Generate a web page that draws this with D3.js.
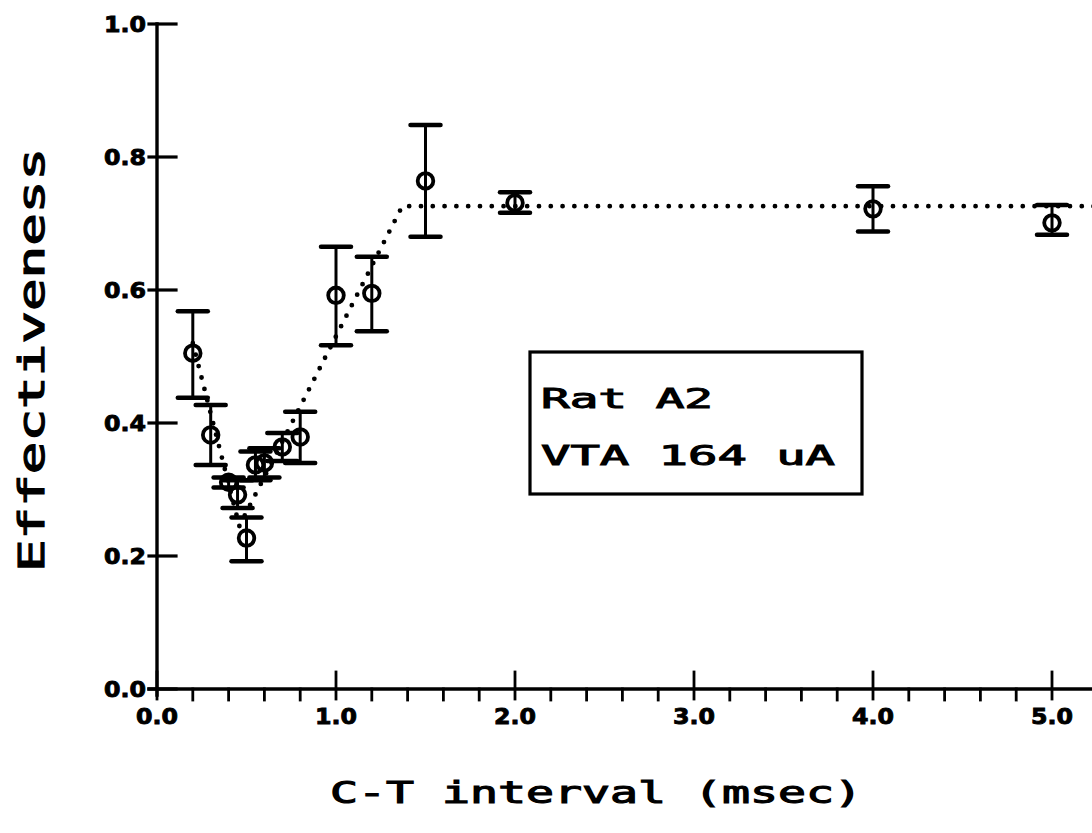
<!DOCTYPE html>
<html>
<head>
<meta charset="utf-8">
<script src="https://cdn.jsdelivr.net/npm/d3@7"></script>
<style>
  html, body { margin: 0; padding: 0; background: #fff; }
  svg { display: block; }
</style>
</head>
<body>
<svg id="chart" width="1092" height="833"></svg>
<script>
// C-T interval (msec) for each measured point
const intervals = [0.2, 0.3, 0.4, 0.45, 0.5, 0.55, 0.6, 0.7, 0.8, 1.0, 1.2, 1.5, 2.0, 4.0, 5.0];
// Mean effectiveness at each interval
const effectiveness = [0.505, 0.382, 0.311, 0.292, 0.227, 0.337, 0.340, 0.364, 0.379, 0.592, 0.595, 0.764, 0.731, 0.722, 0.701];
// Upper and lower ends of the error bars
const errUpper = [0.568, 0.427, 0.318, 0.314, 0.258, 0.357, 0.362, 0.385, 0.417, 0.665, 0.650, 0.848, 0.747, 0.756, 0.728];
const errLower = [0.438, 0.337, 0.303, 0.272, 0.192, 0.314, 0.318, 0.343, 0.340, 0.517, 0.538, 0.680, 0.716, 0.688, 0.683];
// Piecewise-linear fit (dotted)
const fitX = [0.2, 0.46, 1.37, 5.3];
const fitY = [0.52, 0.245, 0.726, 0.726];
// Axis ticks
const xMajorTicks = [0, 1, 2, 3, 4, 5];
const xTickLabels = ["0.0", "1.0", "2.0", "3.0", "4.0", "5.0"];
const xMinorTicks = d3.range(0, 26).map(i => i * 0.2).filter(v => Math.abs(v - Math.round(v)) > 1e-6);
const yTicks = [0, 0.2, 0.4, 0.6, 0.8, 1.0];
const yTickLabels = ["0.0", "0.2", "0.4", "0.6", "0.8", "1.0"];
const boxLines = ["Rat A2", "VTA 164 uA"];

const svg = d3.select("#chart");
const x = d3.scaleLinear().domain([0, 5]).range([157, 1052]);
const y = d3.scaleLinear().domain([0, 1]).range([689, 24]);
const mono = "'DejaVu Sans Mono', 'Liberation Mono', monospace";
const sans = "'DejaVu Sans', 'Liberation Sans', sans-serif";

// Axes lines
const ax = svg.append("g").attr("stroke", "#000").attr("stroke-linecap", "square");
ax.append("line").attr("x1", x(0)).attr("x2", x(0)).attr("y1", y(1)).attr("y2", y(0) + 6).attr("stroke-width", 3.4);
ax.append("line").attr("x1", x(0) - 8).attr("x2", 1092).attr("y1", y(0)).attr("y2", y(0)).attr("stroke-width", 3.4);

// Y ticks
ax.selectAll(".yt").data(yTicks).join("line")
  .attr("x1", x(0) - 8).attr("x2", x(0) + 19)
  .attr("y1", d => y(d)).attr("y2", d => y(d)).attr("stroke-width", 3.2);

// X major ticks (rise above the axis)
ax.selectAll(".xt").data(xMajorTicks).join("line")
  .attr("x1", d => x(d)).attr("x2", d => x(d))
  .attr("y1", y(0) - 17).attr("y2", y(0) + 10).attr("stroke-width", 2.8);
// X minor ticks (hang below the axis)
ax.selectAll(".xm").data(xMinorTicks).join("line")
  .attr("x1", d => x(d)).attr("x2", d => x(d))
  .attr("y1", y(0)).attr("y2", y(0) + 11).attr("stroke-width", 2.8);

// Tick labels
svg.selectAll(".ylab").data(yTicks).join("text")
  .attr("x", x(0) - 53).attr("y", d => y(d) + 8)
  .attr("font-family", sans).attr("font-weight", "bold").attr("font-size", 22)
  .attr("stroke", "#000").attr("stroke-width", 0.9)
  .attr("textLength", 42).attr("lengthAdjust", "spacingAndGlyphs")
  .text((d, i) => yTickLabels[i]);

svg.selectAll(".xlab").data(xMajorTicks).join("text")
  .attr("x", d => x(d) - 21).attr("y", y(0) + 35)
  .attr("font-family", sans).attr("font-weight", "bold").attr("font-size", 22)
  .attr("stroke", "#000").attr("stroke-width", 0.9)
  .attr("textLength", 42).attr("lengthAdjust", "spacingAndGlyphs")
  .text((d, i) => xTickLabels[i]);

// Axis titles
svg.append("text")
  .attr("transform", `translate(44, 572) rotate(-90)`)
  .attr("font-family", mono).attr("font-size", 36)
  .attr("stroke", "#000").attr("stroke-width", 1.2)
  .attr("textLength", 424).attr("lengthAdjust", "spacingAndGlyphs")
  .text("Effectiveness");

svg.append("text")
  .attr("x", 330).attr("y", 803)
  .attr("font-family", mono).attr("font-size", 30)
  .attr("stroke", "#000").attr("stroke-width", 1.1)
  .attr("textLength", 532).attr("lengthAdjust", "spacingAndGlyphs")
  .text("C-T interval (msec)");

// Dotted fit line
const fitPts = fitX.map((v, i) => [v, fitY[i]]);
svg.append("path")
  .attr("d", d3.line().x(d => x(d[0])).y(d => y(d[1]))(fitPts))
  .attr("fill", "none").attr("stroke", "#000").attr("stroke-width", 4.8)
  .attr("stroke-linecap", "round").attr("stroke-dasharray", "0 11.8");

// Error bars and markers
const pts = intervals.map((v, i) => ({ x: v, y: effectiveness[i], hi: errUpper[i], lo: errLower[i] }));
const g = svg.append("g").attr("stroke", "#000");
g.selectAll(".ev").data(pts).join("line")
  .attr("x1", d => x(d.x)).attr("x2", d => x(d.x))
  .attr("y1", d => y(d.hi)).attr("y2", d => y(d.lo)).attr("stroke-width", 3);
g.selectAll(".ct").data(pts).join("line")
  .attr("x1", d => x(d.x) - 15).attr("x2", d => x(d.x) + 15)
  .attr("y1", d => y(d.hi)).attr("y2", d => y(d.hi)).attr("stroke-width", 4.5).attr("stroke-linecap", "round");
g.selectAll(".cb").data(pts).join("line")
  .attr("x1", d => x(d.x) - 15).attr("x2", d => x(d.x) + 15)
  .attr("y1", d => y(d.lo)).attr("y2", d => y(d.lo)).attr("stroke-width", 4.5).attr("stroke-linecap", "round");
g.selectAll(".mk").data(pts).join("circle")
  .attr("cx", d => x(d.x)).attr("cy", d => y(d.y)).attr("r", 7.8)
  .attr("fill", "none").attr("stroke-width", 3.8);

// Annotation box
svg.append("rect").attr("x", 530).attr("y", 352).attr("width", 332).attr("height", 142)
  .attr("fill", "#fff").attr("stroke", "#000").attr("stroke-width", 3.2);
svg.append("text").attr("x", 541).attr("y", 408)
  .attr("font-family", mono).attr("font-size", 26)
  .attr("stroke", "#000").attr("stroke-width", 1)
  .attr("textLength", 172).attr("lengthAdjust", "spacingAndGlyphs")
  .text(boxLines[0]);
svg.append("text").attr("x", 541).attr("y", 465)
  .attr("font-family", mono).attr("font-size", 26)
  .attr("stroke", "#000").attr("stroke-width", 1)
  .attr("textLength", 294).attr("lengthAdjust", "spacingAndGlyphs")
  .text(boxLines[1]);
</script>
</body>
</html>
